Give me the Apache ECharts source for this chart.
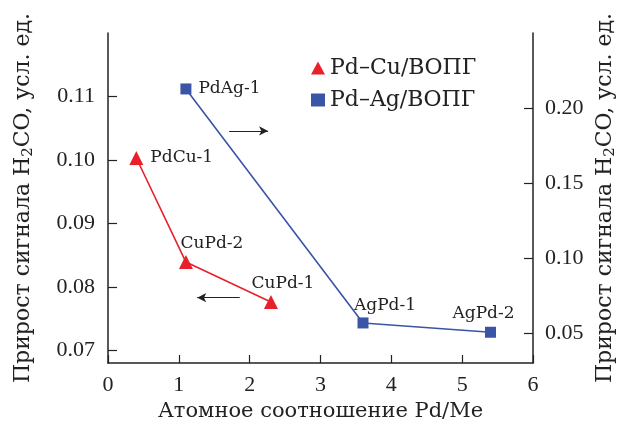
<!DOCTYPE html>
<html>
<head>
<meta charset="utf-8">
<script src="https://cdn.jsdelivr.net/npm/echarts@6/dist/echarts.min.js"></script>
<style>
  html, body { margin: 0; padding: 0; background: #fff; }
  #chart { width: 622px; height: 430px; }
</style>
</head>
<body>
<div id="chart"></div>
<script>
// данные
const cuX = [0.4, 1.1, 2.3];
const cuY = [0.1003, 0.0839, 0.0776];
const cuNames = ['PdCu-1', 'CuPd-2', 'CuPd-1'];

const agX = [1.1, 3.6, 5.4];
const agY = [0.2127, 0.0567, 0.0505];
const agNames = ['PdAg-1', 'AgPd-1', 'AgPd-2'];

const leftTicks = [0.07, 0.08, 0.09, 0.10, 0.11];
const rightTicks = [0.05, 0.10, 0.15, 0.20];
const xTicks = [0, 1, 2, 3, 4, 5, 6];

// стрелки (в единицах осей)
const arrowRight = [[1.71, 0.1847], [2.26, 0.1847]];
const arrowLeft = [[1.86, 0.0783], [1.26, 0.0783]];

const serif = 'Liberation Serif';
const wide = 'DejaVu Serif';
const ink = '#222';
const red = '#e8202a';
const blue = '#3a54a6';

// положение подписей точек
const cuLabelPos = [
  { position: 'right', distance: 7, offset: [0, 0] },
  { position: 'top', distance: 3, offset: [26, 0] },
  { position: 'top', distance: 3, offset: [12, 0] }
];
const agLabelPos = [
  { position: 'right', distance: 7, offset: [0, 0] },
  { position: 'top', distance: 3, offset: [22, 0] },
  { position: 'top', distance: 5, offset: [-7, 0] }
];

function points(xs, ys, names, pos) {
  return xs.map((x, i) => ({
    value: [x, ys[i]],
    name: names[i],
    label: Object.assign({}, pos[i])
  }));
}

const yName = 'Прирост сигнала H{sub|2}CO, усл. ед.';
const nameStyle = {
  fontFamily: wide,
  fontSize: 22,
  color: ink,
  rich: {
    sub: { fontFamily: wide, fontSize: 15, color: ink, verticalAlign: 'bottom', padding: [10, 0, 0, 0] }
  }
};

const legendText = { fontFamily: wide, fontSize: 22, color: ink, lineHeight: 22 };

let myChart = echarts.init(document.getElementById('chart'));

myChart.setOption({
  animation: false,
  backgroundColor: '#fff',
  grid: { left: 108, right: 89, top: 33, bottom: 67, outerBoundsMode: 'none', containLabel: false },
  legend: {
    orient: 'vertical',
    left: 306,
    top: 52,
    itemWidth: 14,
    itemHeight: 13,
    itemGap: 10,
    textStyle: legendText,
    data: [
      { name: 'Pd–Cu/ВОПГ', icon: 'triangle', textStyle: legendText },
      { name: 'Pd–Ag/ВОПГ', icon: 'rect', textStyle: legendText }
    ]
  },
  xAxis: {
    type: 'value',
    min: 0,
    max: 6,
    interval: 1,
    name: 'Атомное соотношение Pd/Me',
    nameLocation: 'middle',
    nameGap: 37,
    nameTextStyle: { fontFamily: wide, fontSize: 21, color: ink },
    axisLine: { lineStyle: { color: ink, width: 1.5 } },
    axisTick: { inside: true, length: 8, lineStyle: { color: ink, width: 1.2 }, customValues: xTicks },
    axisLabel: { fontFamily: serif, fontSize: 22, color: ink, margin: 11, customValues: xTicks },
    splitLine: { show: false }
  },
  yAxis: [
    {
      type: 'value',
      min: 0.068,
      max: 0.12,
      position: 'left',
      name: yName,
      nameLocation: 'middle',
      nameGap: 72,
      nameTextStyle: nameStyle,
      axisLine: { show: true, lineStyle: { color: ink, width: 1.5 } },
      axisTick: { show: true, inside: true, length: 9, lineStyle: { color: ink, width: 1.2 }, customValues: leftTicks },
      axisLabel: {
        fontFamily: serif, fontSize: 22, color: ink, margin: 13,
        customValues: leftTicks,
        formatter: v => v.toFixed(2)
      },
      splitLine: { show: false }
    },
    {
      type: 'value',
      min: 0.03,
      max: 0.25,
      position: 'right',
      name: yName,
      nameLocation: 'middle',
      nameGap: 54,
      nameRotate: 90,
      nameTextStyle: nameStyle,
      axisLine: { show: true, lineStyle: { color: ink, width: 1.5 } },
      axisTick: { show: true, inside: true, length: 9, lineStyle: { color: ink, width: 1.2 }, customValues: rightTicks },
      axisLabel: {
        fontFamily: serif, fontSize: 22, color: ink, margin: 12,
        customValues: rightTicks,
        formatter: v => v.toFixed(2)
      },
      splitLine: { show: false }
    }
  ],
  series: [
    {
      name: 'Pd–Cu/ВОПГ',
      type: 'line',
      yAxisIndex: 0,
      symbol: 'triangle',
      symbolSize: 14,
      data: points(cuX, cuY, cuNames, cuLabelPos),
      itemStyle: { color: red },
      lineStyle: { color: red, width: 1.6 },
      label: {
        show: true,
        formatter: p => p.name,
        fontFamily: wide,
        fontSize: 17,
        color: ink
      },
      markLine: {
        silent: true,
        symbol: ['none', 'arrow'],
        symbolSize: [7, 9],
        label: { show: false },
        lineStyle: { color: ink, width: 1.2, type: 'solid' },
        data: [[{ coord: arrowLeft[0] }, { coord: arrowLeft[1] }]]
      }
    },
    {
      name: 'Pd–Ag/ВОПГ',
      type: 'line',
      yAxisIndex: 1,
      symbol: 'rect',
      symbolSize: 11,
      data: points(agX, agY, agNames, agLabelPos),
      itemStyle: { color: blue },
      lineStyle: { color: blue, width: 1.6 },
      label: {
        show: true,
        formatter: p => p.name,
        fontFamily: wide,
        fontSize: 17,
        color: ink
      },
      markLine: {
        silent: true,
        symbol: ['none', 'arrow'],
        symbolSize: [7, 9],
        label: { show: false },
        lineStyle: { color: ink, width: 1.2, type: 'solid' },
        data: [[{ coord: arrowRight[0] }, { coord: arrowRight[1] }]]
      }
    }
  ]
});
</script>
</body>
</html>
